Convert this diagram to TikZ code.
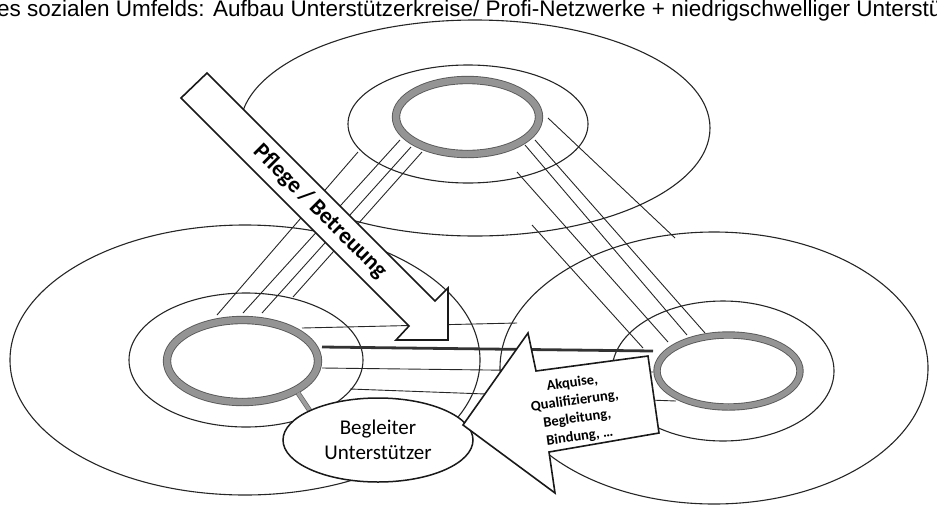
\documentclass[tikz,border=0pt]{standalone}
\usepackage{fontspec}
\setmainfont{Carlito}
\newfontfamily\titlefont{Liberation Sans}
\usetikzlibrary{shapes.geometric}

\begin{document}
\begin{tikzpicture}[x=1pt,y=-1pt,
  orbit/.style={ellipse, draw=black!85, line width=1.1pt, inner sep=0pt, outer sep=0pt},
  ring/.style={ellipse, draw=black!65, double=black!42, double distance=6.5pt,
               line width=0.9pt, inner sep=0pt, outer sep=0pt},
  link/.style={draw=black!85, line width=0.9pt},
  mainlink/.style={draw=black!80, line width=2.8pt},
  stem/.style={draw=black!60, double=black!38, double distance=3.5pt, line width=0.8pt},
  blockarrow/.style={draw=black!90, fill=white, line width=1.6pt, line join=miter},
  tag/.style={ellipse, draw=black!90, fill=white, line width=1.5pt, inner sep=0pt,
              align=center, font=\fontsize{21}{25}\selectfont},
  arrowtext/.style={inner sep=0pt, align=center}
]
\useasboundingbox (0,0) rectangle (937,504);
\clip (0,0) rectangle (937,504);

% heading, cut at both edges
\node[anchor=base west, inner sep=0pt, font=\titlefont\fontsize{22.5}{22.5}\selectfont]
  (title) at (-3,16) {es sozialen Umfelds: Aufbau Unterstützerkreise/ Profi-Netzwerke + niedrigschwelliger Unterstü};

% three circles of the network: outer ring, inner ring, core
\node[orbit, minimum width=470pt, minimum height=216pt] (topOuter)   at (475,128) {};
\node[orbit, minimum width=240pt, minimum height=118pt] (topMid)     at (468,124) {};
\node[orbit, minimum width=470pt, minimum height=270pt] (leftOuter)  at (245,360) {};
\node[orbit, minimum width=234pt, minimum height=134pt] (leftMid)    at (246,360) {};
\node[orbit, minimum width=428pt, minimum height=272pt] (rightOuter) at (714,368) {};
\node[orbit, minimum width=222pt, minimum height=140pt] (rightMid)   at (723,371) {};

\node[ring, minimum width=143pt, minimum height=74pt] (topRing)   at (467.5,117) {};
\node[ring, minimum width=151pt, minimum height=82pt] (leftRing)  at (242.5,361) {};
\node[ring, double distance=5.5pt, minimum width=143pt, minimum height=72pt] (rightRing) at (728.5,371) {};

% end points of the links between the circles
\coordinate (t1) at (358,152); \coordinate (l1) at (217,315);
\coordinate (t2) at (400,140); \coordinate (l2) at (243,313);
\coordinate (t3) at (411,147); \coordinate (l3) at (262,313);
\coordinate (t4) at (422,152); \coordinate (l4) at (293,297);

\coordinate (s1) at (517,172); \coordinate (r1) at (668,342);
\coordinate (s2) at (525,145); \coordinate (r2) at (687,335);
\coordinate (s3) at (535,140); \coordinate (r3) at (705,333);
\coordinate (s4) at (548,118); \coordinate (r4) at (675,238);
\coordinate (s5) at (532,225); \coordinate (r5) at (643,348);

\coordinate (h1a) at (302,328); \coordinate (h1b) at (517,323);
\coordinate (h2a) at (322,347); \coordinate (h2b) at (653,351);
\coordinate (h3a) at (322,368); \coordinate (h3b) at (653,372);
\coordinate (h4a) at (350,389); \coordinate (h4b) at (676,401);

\draw[link] (t1) -- (l1);  \draw[link] (t2) -- (l2);
\draw[link] (t3) -- (l3);  \draw[link] (t4) -- (l4);
\draw[link] (s1) -- (r1);  \draw[link] (s2) -- (r2);
\draw[link] (s3) -- (r3);  \draw[link] (s4) -- (r4);
\draw[link] (s5) -- (r5);
\draw[link] (h1a) -- (h1b);
\draw[mainlink] (h2a) -- (h2b);
\draw[link] (h3a) -- (h3b);
\draw[link] (h4a) -- (h4b);

% care arrow, pointing into the left circle
\draw[blockarrow] (207,73) -- (435,301) -- (448,288) -- (448,340)
  -- (396,340) -- (409,326) -- (181,98) -- cycle;
\node[arrowtext, rotate=-45, font=\bfseries\fontsize{23}{23}\selectfont]
  (care) at (320,211.5) {Pflege / Betreuung};

% companion / supporter, tied to the left core
\coordinate (stemTop) at (298,393);
\coordinate (stemEnd) at (312,414);
\draw[stem] (stemTop) -- (stemEnd);
\node[tag, minimum width=190pt, minimum height=84pt] (helper) at (378,440) {Begleiter\\Unterstützer};

% recruiting arrow, pointing from the right circle to the supporter
\draw[blockarrow] (463,425) -- (528,333) -- (536,371) -- (648,356)
  -- (659,433) -- (549,452) -- (555,493) -- cycle;
\node[arrowtext, rotate=8, font=\bfseries\fontsize{14.5}{18}\selectfont]
  (recruit) at (576,410) {Akquise,\\Qualifizierung,\\Begleitung,\\Bindung, …};
\end{tikzpicture}
\end{document}
